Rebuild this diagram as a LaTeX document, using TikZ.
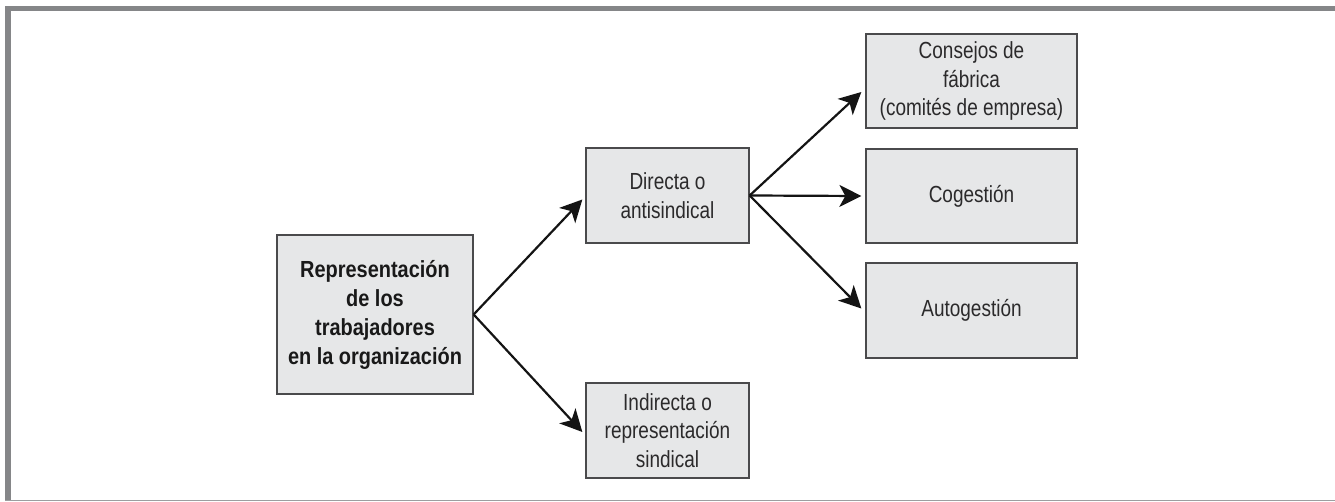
\documentclass[tikz,border=0pt]{standalone}
\usepackage{fontspec}
\newfontfamily\regf{Liberation Sans}[FakeStretch=0.815]
\newfontfamily\boldf{Liberation Sans}[FakeStretch=0.856]
\usetikzlibrary{arrows.meta,calc}
\definecolor{framegray}{HTML}{858688}
\definecolor{boxfill}{HTML}{E6E7E8}
\definecolor{boxline}{HTML}{4A4A4C}
\definecolor{txt}{HTML}{2B2A2B}
\tikzset{
  box/.style={draw=boxline, line width=1.3pt, fill=boxfill, inner sep=0pt,
    align=center, text=txt, font=\regf\fontsize{23.3}{28.6}\selectfont},
  mainbox/.style={box, font=\boldf\bfseries\fontsize{23.3}{29}\selectfont, text=black!90},
  conn/.style={line width=2.2pt, draw=black!92,
    -{Stealth[length=22pt,width=22pt,inset=6pt]}}
}
\begin{document}
\begin{tikzpicture}[x=1pt,y=-1pt]
\useasboundingbox (0,0) rectangle (1335,502);
% frame
\fill[framegray] (5,6) rectangle (1335,11);
\fill[framegray] (5,6) rectangle (11,501);
\draw[framegray!80, line width=1.5pt] (5,500.5) -- (1335,500.5);
% nodes
\node[mainbox, minimum width=196pt, minimum height=159pt] (main) at (375,314.5)
  {Representación\\de los\\trabajadores\\en la organización};
\node[box, minimum width=163pt, minimum height=95pt] (directa) at (667.5,195.5)
  {Directa o\\antisindical};
\node[box, minimum width=163pt, minimum height=95pt] (indirecta) at (667.5,430.5)
  {Indirecta o\\representación\\sindical};
\node[box, minimum width=211pt, minimum height=94pt] (consejos) at (971.5,81)
  {Consejos de\\fábrica\\(comités de empresa)};
\node[box, minimum width=211pt, minimum height=94pt] (cogestion) at (971.5,196)
  {Cogestión};
\node[box, minimum width=211pt, minimum height=95pt] (autogestion) at (971.5,310.5)
  {Autogestión};
% connectors
\draw[conn] (main.east) -- ($(directa.west)+(-3,4)$);
\draw[conn] (main.east) -- ($(indirecta.west)+(-3,1.5)$);
\draw[conn] (directa.east) -- ($(consejos.west)+(-4,11)$);
\draw[conn] (directa.east) -- ($(cogestion.west)+(-4,0)$);
\draw[conn] (directa.east) -- ($(autogestion.west)+(-4,-2)$);
\end{tikzpicture}
\end{document}
